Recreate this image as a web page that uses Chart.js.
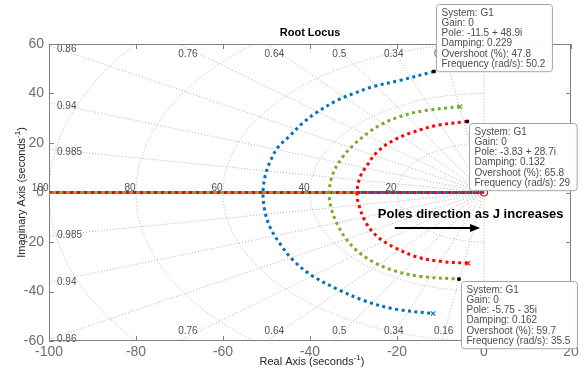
<!DOCTYPE html>
<html><head><meta charset="utf-8">
<script src="https://cdn.jsdelivr.net/npm/chart.js@4"></script>
<style>html,body{margin:0;padding:0;background:#fff}#wrap{width:587px;height:374px;position:relative}</style>
</head><body><div id="wrap"><canvas id="c"></canvas></div>
<script>
// ---- data ----
const xTickValues = [-100, -80, -60, -40, -20, 0, 20];
const yTickValues = [-60, -40, -20, 0, 20, 40, 60];

const blueRe = [-11.5, -19.3, -25.5, -30.1, -33.8, -38.4, -41.8, -44.6, -47.4, -48.9, -50.2, -50.8, -50.4, -49.2, -46.9, -43.8, -39.6, -33.9, -27.7, -20.8, -11.7];
const blueIm = [48.9, 45.3, 42.8, 39.9, 37.2, 32.4, 27.9, 23.0, 18.2, 13.5, 7.5, 0, -7.3, -14.0, -20.7, -27.5, -33.5, -38.9, -43.6, -47.0, -48.9];

const greenRe = [-5.5, -13.6, -18.6, -23.2, -26.9, -30.1, -32.6, -34.7, -35.6, -35.1, -33.8, -32.0, -29.3, -25.4, -20.8, -14.7, -5.75];
const greenIm = [34.7, 33.1, 31.1, 27.9, 23.8, 19.0, 14.1, 7.7, 0, -6.5, -12.6, -18.0, -23.4, -28.1, -31.5, -33.9, -35.0];

const redRe = [-3.83, -10.8, -16.3, -20.9, -24.6, -26.9, -28.5, -29.2, -28.7, -27.0, -24.4, -20.8, -15.5, -10.1, -3.7];
const redIm = [28.7, 27.1, 24.4, 21.0, 16.3, 10.9, 6.2, 0, -5.5, -12.6, -18.0, -22.0, -26.0, -27.8, -28.6];

// real-axis branches [from, to]
const blueAxis = [-29.2, 0];
const greenAxis = [-100, -29.2];
const redAxis = [-100, 0];

const zeroRe = [0];
const zeroIm = [0];

// data tips
const tipRe = [-11.5, -3.83, -5.75];
const tipIm = [48.9, 28.7, -35];
const tipGain = [0, 0, 0];
const tipDamping = [0.229, 0.132, 0.162];
const tipOvershoot = [47.8, 65.8, 59.7];
const tipFreq = [50.2, 29, 35.5];

// s-plane grid
const dampingGrid = [0, 0.16, 0.34, 0.5, 0.64, 0.76, 0.86, 0.94, 0.985];
const dampingLabels = ['0.16', '0.34', '0.5', '0.64', '0.76', '0.86', '0.94', '0.985'];
const freqGrid = [20, 40, 60, 80, 100];

// ---- styles ----
const C_BLUE = '#0072BD', C_GREEN = '#77AC30', C_RED = '#FF0000';
const FONT = '"Liberation Sans", Arial, Helvetica, sans-serif';
const tipPlace = ['up', 'down', 'down'];
const annot = { text: 'Poles direction as J increases', tx: -24.4, ty: -8.8, ax0: -20.5, ax1: -0.9, ay: -14.3 };

const pts = (re, im) => re.map((v, i) => ({ x: v, y: im[i] }));
const endStyle = (n, which) => Array.from({ length: n }, (_, i) => (which.includes(i) ? 3 : 0));

const curve = (label, re, im, color, ends, order) => ({
  label, data: pts(re, im), showLine: true, borderColor: color, backgroundColor: color,
  borderWidth: 3, borderDash: [3, 3.5], borderCapStyle: 'butt', tension: 0.35,
  pointStyle: 'crossRot', pointRadius: endStyle(re.length, ends), pointBorderWidth: 1.2,
  pointBorderColor: color, pointHoverRadius: 0, order
});
const axisLine = (label, rng, color, offset, order) => ({
  label, data: [{ x: rng[0], y: 0 }, { x: rng[1], y: 0 }], showLine: true, borderColor: color,
  borderWidth: 3, borderDash: [3.5, 3.5], borderDashOffset: offset, pointRadius: 0, order
});

const deco = {
  id: 'deco',
  beforeDatasetsDraw(chart) {
    const ctx = chart.ctx, xs = chart.scales.x, ys = chart.scales.y, a = chart.chartArea;
    const ox = xs.getPixelForValue(0), oy = ys.getPixelForValue(0);
    const kx = xs.getPixelForValue(1) - ox, ky = oy - ys.getPixelForValue(1);
    ctx.save();
    ctx.beginPath(); ctx.rect(a.left, a.top, a.right - a.left, a.bottom - a.top); ctx.clip();
    ctx.strokeStyle = '#b0b0b0'; ctx.lineWidth = 1; ctx.setLineDash([1, 2]);
    dampingGrid.forEach(z => {
      const s = Math.sqrt(1 - z * z);
      [1, -1].forEach(sg => {
        ctx.beginPath(); ctx.moveTo(ox, oy);
        ctx.lineTo(ox - 300 * z * kx, oy - sg * 300 * s * ky); ctx.stroke();
      });
    });
    freqGrid.forEach(r => {
      ctx.beginPath(); ctx.ellipse(ox, oy, r * kx, r * ky, 0, Math.PI / 2, Math.PI * 1.5); ctx.stroke();
    });
    ctx.restore();
    // grid labels
    ctx.save();
    ctx.font = '10px ' + FONT; ctx.fillStyle = '#505050'; ctx.textBaseline = 'middle';
    dampingGrid.slice(1).forEach((z, i) => {
      const s = Math.sqrt(1 - z * z);
      const yLeft = -xs.min * s / z;
      if (yLeft <= ys.max) {
        ctx.textAlign = 'left';
        ctx.fillText(dampingLabels[i], a.left + 8, ys.getPixelForValue(yLeft) + 3.5);
        ctx.fillText(dampingLabels[i], a.left + 8, ys.getPixelForValue(-yLeft) - 0.5);
      } else {
        const xTop = -ys.max * z / s;
        const px = xs.getPixelForValue(xTop) + 12 * z;
        ctx.textAlign = 'center';
        ctx.fillText(dampingLabels[i], px, a.top + 10);
        ctx.fillText(dampingLabels[i], px, a.bottom - 9.5);
      }
    });
    ctx.textAlign = 'right'; ctx.textBaseline = 'alphabetic';
    freqGrid.forEach(r => ctx.fillText(String(r), xs.getPixelForValue(-r) - 0.5, oy - 1.5));
    ctx.restore();
  },
  afterDraw(chart) {
    const ctx = chart.ctx, xs = chart.scales.x, ys = chart.scales.y, a = chart.chartArea;
    ctx.save();
    // box and inward ticks
    ctx.strokeStyle = '#808080'; ctx.lineWidth = 1; ctx.setLineDash([]);
    ctx.strokeRect(Math.round(a.left) + 0.5, Math.round(a.top) + 0.5, Math.round(a.right - a.left) - 1, Math.round(a.bottom - a.top) - 1);
    ctx.beginPath();
    xTickValues.forEach(v => {
      const p = Math.round(xs.getPixelForValue(v)) + 0.5;
      ctx.moveTo(p, a.bottom); ctx.lineTo(p, a.bottom - 5);
      ctx.moveTo(p, a.top); ctx.lineTo(p, a.top + 5);
    });
    yTickValues.forEach(v => {
      const p = Math.round(ys.getPixelForValue(v)) + 0.5;
      ctx.moveTo(a.left, p); ctx.lineTo(a.left + 5, p);
      ctx.moveTo(a.right, p); ctx.lineTo(a.right - 5, p);
    });
    ctx.stroke();
    // title
    ctx.fillStyle = '#000'; ctx.font = 'bold 11px ' + FONT; ctx.textAlign = 'center'; ctx.textBaseline = 'middle';
    ctx.fillText('Root Locus', (a.left + a.right) / 2, 33);
    // axis titles with superscript
    const supLabel = (base, cx, cy) => {
      ctx.font = '11px ' + FONT; const w1 = ctx.measureText(base).width, w3 = ctx.measureText(')').width;
      ctx.font = '8px ' + FONT; const w2 = ctx.measureText('-1').width;
      let x = cx - (w1 + w2 + w3) / 2;
      ctx.textAlign = 'left'; ctx.textBaseline = 'middle'; ctx.fillStyle = '#262626';
      ctx.font = '11px ' + FONT; ctx.fillText(base, x, cy); x += w1;
      ctx.font = '8px ' + FONT; ctx.fillText('-1', x, cy - 4); x += w2;
      ctx.font = '11px ' + FONT; ctx.fillText(')', x, cy);
    };
    supLabel('Real Axis (seconds', (a.left + a.right) / 2 + 2, 362);
    ctx.save(); ctx.translate(22, (a.top + a.bottom) / 2); ctx.rotate(-Math.PI / 2);
    supLabel('Imaginary Axis (seconds', 0, 0); ctx.restore();
    // annotation + arrow
    ctx.fillStyle = '#000'; ctx.font = 'bold 13px ' + FONT; ctx.textAlign = 'left'; ctx.textBaseline = 'middle';
    ctx.fillText(annot.text, xs.getPixelForValue(annot.tx), ys.getPixelForValue(annot.ty));
    const ay = ys.getPixelForValue(annot.ay), x0 = xs.getPixelForValue(annot.ax0), x1 = xs.getPixelForValue(annot.ax1);
    ctx.strokeStyle = '#000'; ctx.lineWidth = 2;
    ctx.beginPath(); ctx.moveTo(x0, ay); ctx.lineTo(x1 - 8, ay); ctx.stroke();
    ctx.beginPath(); ctx.moveTo(x1, ay); ctx.lineTo(x1 - 10, ay - 4); ctx.lineTo(x1 - 10, ay + 4); ctx.closePath(); ctx.fill();
    // data tips
    ctx.font = '10px ' + FONT;
    tipRe.forEach((re, i) => {
      const im = tipIm[i];
      const lines = ['System: G1', 'Gain: ' + tipGain[i],
        'Pole: ' + re + ' ' + (im >= 0 ? '+' : '-') + ' ' + Math.abs(im) + 'i',
        'Damping: ' + tipDamping[i], 'Overshoot (%): ' + tipOvershoot[i],
        'Frequency (rad/s): ' + tipFreq[i]];
      const w = Math.max(...lines.map(l => ctx.measureText(l).width)) + 12;
      const h = lines.length * 10.2 + 6;
      const px = xs.getPixelForValue(re), py = ys.getPixelForValue(im);
      const bx = Math.round(px + 2) + 0.5;
      const by = tipPlace[i] === 'up' ? Math.round(py - h) + 0.5 : Math.round(py + 2) + 0.5;
      ctx.beginPath(); ctx.roundRect(bx, by, w, h, 3);
      ctx.fillStyle = 'rgba(255,255,255,0.96)'; ctx.fill();
      ctx.strokeStyle = '#a6a6a6'; ctx.lineWidth = 1; ctx.stroke();
      ctx.fillStyle = '#4d4d4d'; ctx.textAlign = 'left'; ctx.textBaseline = 'middle';
      lines.forEach((l, k) => ctx.fillText(l, bx + 5, by + 8.5 + k * 10.2));
    });
    ctx.restore();
  }
};

new Chart(document.getElementById('c'), {
  type: 'scatter',
  data: {
    datasets: [
      { label: 'tips', data: pts(tipRe, tipIm), pointStyle: 'rect', pointRadius: 1.8, backgroundColor: '#000', borderColor: '#000', order: 0 },
      { label: 'zero', data: pts(zeroRe, zeroIm), pointStyle: 'circle', pointRadius: 3.5, backgroundColor: 'rgba(0,0,0,0)', borderColor: C_RED, borderWidth: 1.2, order: 1 },
      curve('G1 red', redRe, redIm, C_RED, [redRe.length - 1], 2),
      curve('G1 green', greenRe, greenIm, C_GREEN, [0], 3),
      curve('G1 blue', blueRe, blueIm, C_BLUE, [blueRe.length - 1], 4),
      axisLine('red axis', redAxis, C_RED, 0, 5),
      axisLine('green axis', greenAxis, C_GREEN, 3.5, 6),
      axisLine('blue axis', blueAxis, C_BLUE, 3.5, 7)
    ]
  },
  options: {
    responsive: true, maintainAspectRatio: false, animation: false, devicePixelRatio: 1,
    layout: { padding: { left: 0, right: 16, top: 44, bottom: 0 } },
    plugins: { legend: { display: false }, tooltip: { enabled: false }, title: { display: false } },
    events: [],
    scales: {
      x: {
        type: 'linear', min: -100, max: 20,
        afterBuildTicks: s => { s.ticks = xTickValues.map(v => ({ value: v })); },
        afterFit: s => { s.height = 33; },
        ticks: { color: '#6e6e6e', font: { size: 14, family: FONT }, padding: 3, maxRotation: 0, autoSkip: false },
        grid: { display: false, drawTicks: false }, border: { display: false }
      },
      y: {
        type: 'linear', min: -60, max: 60,
        afterBuildTicks: s => { s.ticks = yTickValues.map(v => ({ value: v })); },
        afterFit: s => { s.width = 49; },
        ticks: { color: '#6e6e6e', font: { size: 14, family: FONT }, padding: 5, autoSkip: false },
        grid: { display: false, drawTicks: false }, border: { display: false }
      }
    }
  },
  plugins: [deco]
});
</script>
</body></html>
